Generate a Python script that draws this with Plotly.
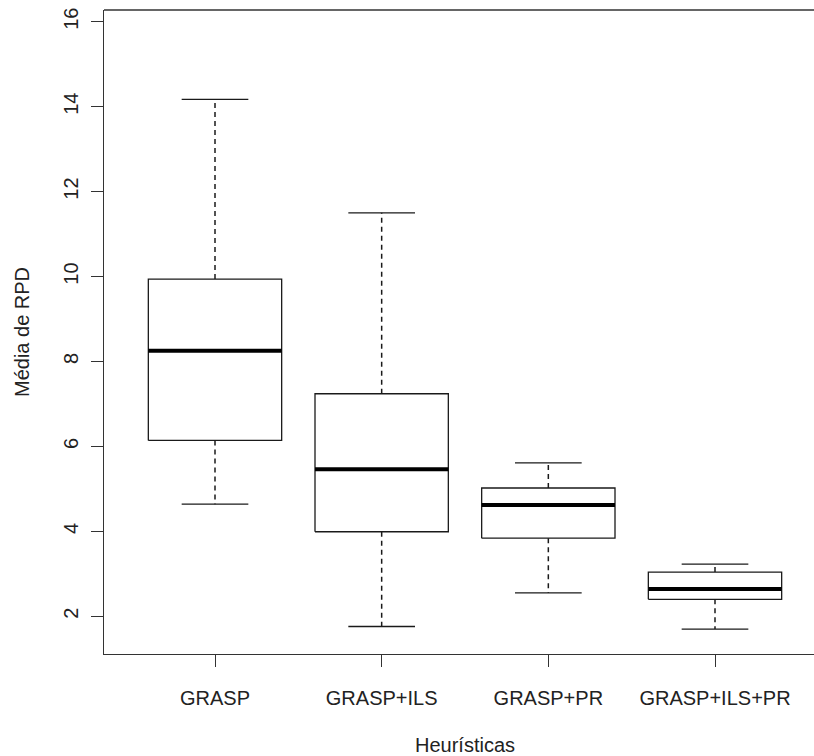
import plotly.graph_objects as go

# Five-number summaries of the average RPD per heuristic
categories = ["GRASP", "GRASP+ILS", "GRASP+PR", "GRASP+ILS+PR"]
whisker_low = [4.64, 1.76, 2.55, 1.70]
q1 = [6.14, 3.99, 3.84, 2.40]
median = [8.25, 5.46, 4.62, 2.64]
q3 = [9.94, 7.24, 5.02, 3.04]
whisker_high = [14.17, 11.50, 5.61, 3.23]

y_ticks = [2, 4, 6, 8, 10, 12, 14, 16]

BOX_HALF = 0.4
CAP_HALF = 0.2
LINE = "#1a1a1a"
FONT = "Liberation Sans, Arial, sans-serif"

fig = go.Figure()

for i, name in enumerate(categories):
    x = i + 1
    # box outline
    fig.add_trace(go.Scatter(
        x=[x - BOX_HALF, x + BOX_HALF, x + BOX_HALF, x - BOX_HALF, x - BOX_HALF],
        y=[q1[i], q1[i], q3[i], q3[i], q1[i]],
        mode="lines", line=dict(color=LINE, width=1.3),
        hoverinfo="skip", showlegend=False))
    # median
    fig.add_trace(go.Scatter(
        x=[x - BOX_HALF, x + BOX_HALF], y=[median[i], median[i]],
        mode="lines", line=dict(color="black", width=4),
        hoverinfo="skip", showlegend=False))
    # dashed whiskers
    for a, b in ((q3[i], whisker_high[i]), (q1[i], whisker_low[i])):
        fig.add_trace(go.Scatter(
            x=[x, x], y=[a, b], mode="lines",
            line=dict(color=LINE, width=1.5, dash="5px,4px"),
            hoverinfo="skip", showlegend=False))
    # whisker caps
    for v in (whisker_high[i], whisker_low[i]):
        fig.add_trace(go.Scatter(
            x=[x - CAP_HALF, x + CAP_HALF], y=[v, v], mode="lines",
            line=dict(color=LINE, width=1.3),
            hoverinfo="skip", showlegend=False))

# top border of the frame
fig.add_shape(type="line", xref="paper", yref="paper", x0=0, x1=1, y0=1, y1=1,
              line=dict(color="#333", width=1.3))

# x-axis title, centred on the box positions
fig.add_annotation(text="Heurísticas", x=2.5, xref="x", y=-0.141, yref="paper",
                   yanchor="middle", showarrow=False,
                   font=dict(family=FONT, size=20, color="#222"))

fig.update_layout(
    width=814, height=756,
    margin=dict(l=104, r=0, t=10, b=102),
    paper_bgcolor="white", plot_bgcolor="white",
    font=dict(family=FONT, size=20, color="#222"),
    xaxis=dict(
        range=[0.334, 4.594], tickmode="array",
        tickvals=[1, 2, 3, 4], ticktext=categories,
        ticks="outside", ticklen=12, tickwidth=1.3, tickcolor="#333",
        showline=True, linecolor="#333", linewidth=1.3,
        showgrid=False, zeroline=False, ticklabelstandoff=14,
    ),
    yaxis=dict(
        range=[1.112, 16.275], tickmode="array", tickvals=y_ticks,
        ticktext=[str(v) for v in y_ticks], tickangle=-90,
        ticks="outside", ticklen=12, tickwidth=1.3, tickcolor="#333",
        showline=True, linecolor="#333", linewidth=1.3,
        showgrid=False, zeroline=False, ticklabelstandoff=5,
        title=dict(text="Média de RPD", standoff=24,
                   font=dict(family=FONT, size=20, color="#222")),
    ),
)

fig.write_html("out.html")
